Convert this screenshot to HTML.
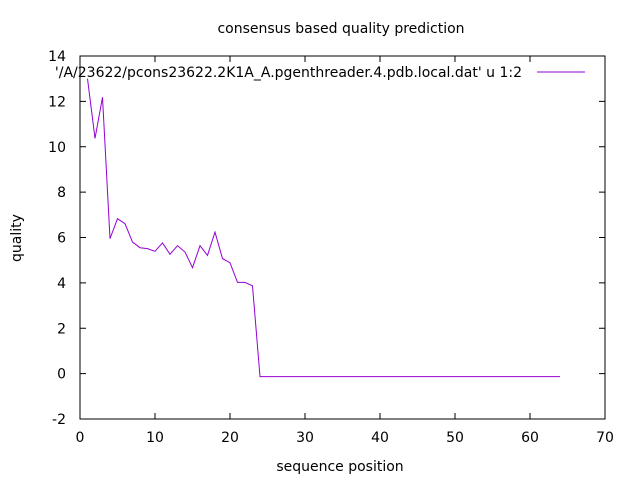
<!DOCTYPE html>
<html><head><meta charset="utf-8"><style>
body{margin:0;background:#fff}
svg{display:block;font-family:"DejaVu Sans","Liberation Sans",sans-serif;font-size:14px}
</style></head><body>
<svg id="chart" width="640" height="480" viewBox="0 0 640 480">
<rect width="640" height="480" fill="#fff"/>
<text x="341" y="33" text-anchor="middle">consensus based quality prediction</text>
<text x="340" y="471" text-anchor="middle">sequence position</text>
<text x="21" y="238" text-anchor="middle" transform="rotate(-90 21 238)">quality</text>
<g id="axes"></g>
<rect x="80" y="56" width="525" height="363" fill="none" stroke="#000" stroke-width="1"/>
<text x="522" y="77" text-anchor="end">'/A/23622/pcons23622.2K1A_A.pgenthreader.4.pdb.local.dat' u 1:2</text>
<line x1="537" y1="72" x2="585" y2="72" stroke="#9400d3" stroke-width="1"/>
<polyline id="series" fill="none" stroke="#9400d3" stroke-width="1"/>
</svg>
<script>
const xTicks=[0,10,20,30,40,50,60,70];
const yTicks=[-2,0,2,4,6,8,10,12,14];
const firstValues=[13.0,10.37,12.18,5.95,6.83,6.61,5.8,5.55,5.51,5.39,5.76,5.26,5.64,5.36,4.67,5.64,5.21,6.24,5.07,4.89,4.02,4.02,3.87,-0.13];
const tailValue=-0.13;
const lastPosition=64;
const positions=[];const values=[];
firstValues.forEach((v,i)=>{positions.push(i+1);values.push(v);});
for(let p=25;p<=lastPosition;p++){positions.push(p);values.push(tailValue);}
const X0=80,X1=605,Y0=419,Y1=56;
const sx=v=>X0+(v-0)/(70-0)*(X1-X0);
const sy=v=>Y0-(v-(-2))/(14-(-2))*(Y0-Y1);
const NS="http://www.w3.org/2000/svg";
const g=document.getElementById('axes');
function mk(t,a){const e=document.createElementNS(NS,t);for(const k in a)e.setAttribute(k,a[k]);g.appendChild(e);return e;}
xTicks.forEach(t=>{const x=sx(t);
const a=mk('line',{x1:x,y1:Y0,x2:x,y2:Y0-6,stroke:'#000'});


const b=mk('line',{x1:x,y1:Y1,x2:x,y2:Y1+6,stroke:'#000'});


const l=mk('text',{x:x,y:Y0+23,'text-anchor':'middle'});l.textContent=t;


});
yTicks.forEach(t=>{const y=sy(t);
const a=mk('line',{x1:X0,y1:y,x2:X0+6,y2:y,stroke:'#000'});


const b=mk('line',{x1:X1,y1:y,x2:X1-6,y2:y,stroke:'#000'});


const l=mk('text',{x:X0-14,y:y+5,'text-anchor':'end'});l.textContent=t;


});
document.getElementById('series').setAttribute('points',positions.map((p,i)=>sx(p)+','+sy(values[i])).join(' '));
</script>
</body></html>
